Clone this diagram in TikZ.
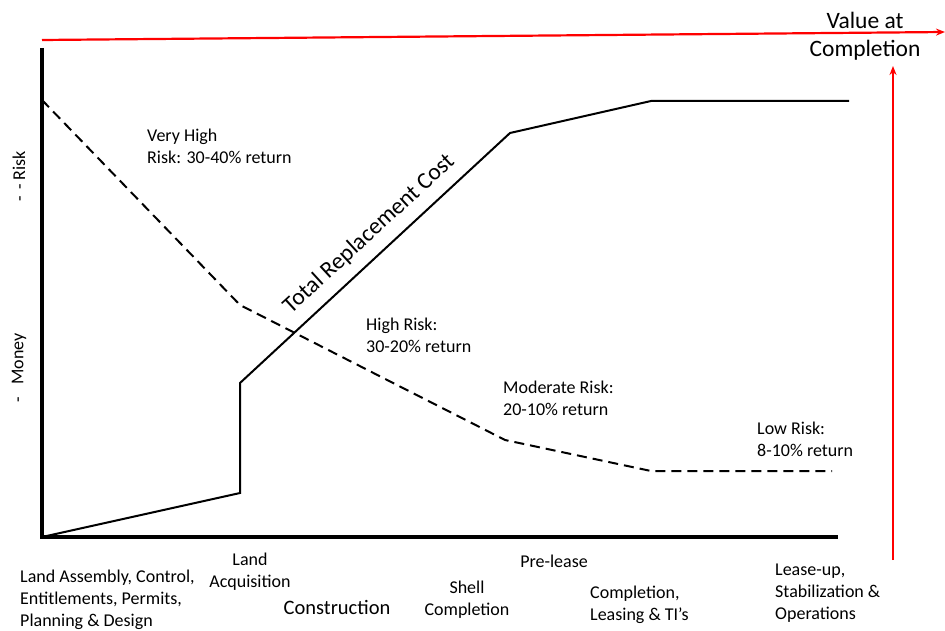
\documentclass[tikz,border=0pt]{standalone}
\usepackage{fontspec}
\setmainfont{Carlito}
\usetikzlibrary{arrows.meta}
\begin{document}
\begin{tikzpicture}[x=1pt,y=-1pt,
  lbl/.style={font=\fontsize{18}{22}\selectfont, inner sep=0pt, align=left, anchor=west},
  clbl/.style={font=\fontsize{18}{22}\selectfont, inner sep=0pt, align=center},
  axis/.style={line width=4.5pt},
  cost/.style={line width=2pt, line join=miter},
  risk/.style={line width=2pt, dash pattern=on 10pt off 6pt},
  valarrow/.style={red, line width=2.2pt, -{Stealth[length=9pt,width=7pt]}}
]
\useasboundingbox (0,0) rectangle (945,631);

% axes
\coordinate (top) at (42,48);
\coordinate (org) at (42,537);
\coordinate (xend) at (838,537);
\draw[axis] (top) -- (org) -- (xend);

% value arrows
\coordinate (vl) at (42,40);
\coordinate (vr) at (945,32);
\draw[valarrow] (vl) -- (vr);
\coordinate (ub) at (893,560);
\coordinate (ut) at (893,66);
\draw[valarrow] (ub) -- (ut);
\node[clbl, font=\fontsize{23.5}{28}\selectfont] (val) at (865,36) {Value at\\Completion};

% total replacement cost
\coordinate (c1) at (240,493);
\coordinate (c2) at (240,383);
\coordinate (c3) at (510,133);
\coordinate (c4) at (651,101);
\coordinate (c5) at (849,101);
\draw[cost] (org) -- (c1) -- (c2) -- (c3) -- (c4) -- (c5);
\node[font=\fontsize{23.5}{28}\selectfont, inner sep=0pt, rotate=42.6] (trc) at (369,234) {Total Replacement Cost};

% risk curve
\coordinate (r0) at (42,100);
\coordinate (r1) at (240,305);
\coordinate (r2) at (505,440);
\coordinate (r3) at (651,471);
\coordinate (r4) at (832,471);
\draw[risk] (r0) -- (r1) -- (r2) -- (r3) -- (r4);

% risk labels
\node[lbl] (vh) at (147,146) {Very High\\Risk: 30-40\% return};
\node[lbl] (hr) at (366,335) {High Risk:\\30-20\% return};
\node[lbl] (mr) at (503,398) {Moderate Risk:\\20-10\% return};
\node[lbl] (lr) at (757,439) {Low Risk:\\8-10\% return};

% vertical axis labels
\node[clbl, rotate=90] (yr) at (19,176) {-\,\,-\ Risk};
\node[clbl, rotate=90] (ym) at (19,368) {-\ \ \ Money};

% phase labels
\node[lbl] (p1) at (20,600) {Land Assembly, Control,\\Entitlements, Permits,\\Planning \& Design};
\node[clbl] (p2) at (250,572) {Land\\Acquisition};
\node[clbl, font=\fontsize{20.5}{26}\selectfont] (p3) at (337,607) {Construction};
\node[clbl] (p4) at (467,600) {Shell\\Completion};
\node[clbl] (p5) at (554,561) {Pre-lease};
\node[lbl] (p6) at (590,605) {Completion,\\Leasing \& TI’s};
\node[lbl] (p7) at (775,593) {Lease-up,\\Stabilization \&\\Operations};
\end{tikzpicture}
\end{document}
